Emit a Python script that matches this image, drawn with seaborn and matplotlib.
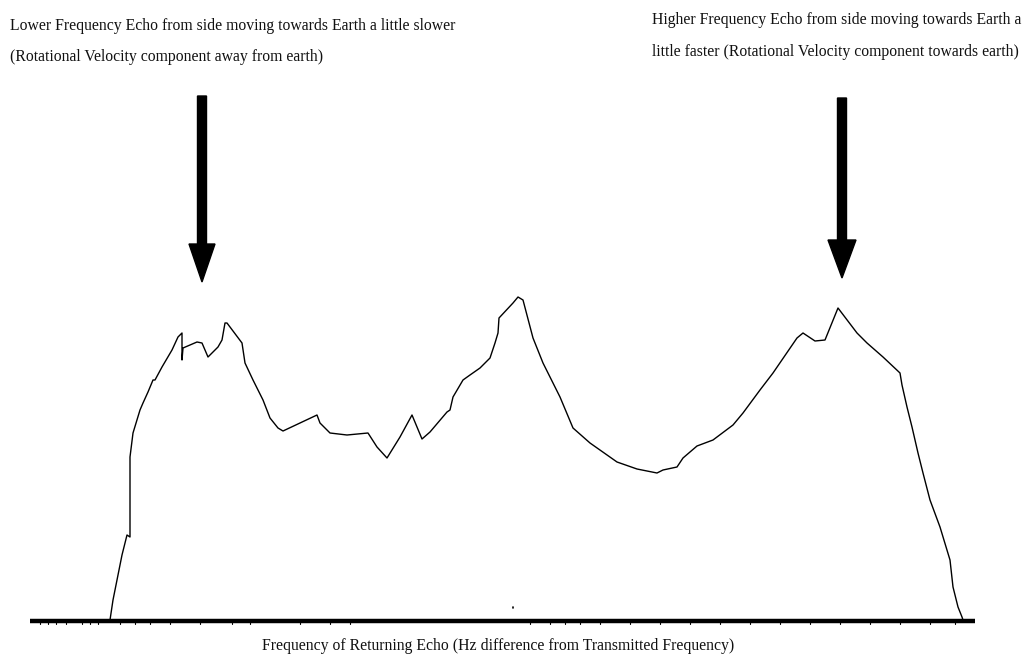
import matplotlib
matplotlib.use("Agg")
import matplotlib.pyplot as plt
import seaborn as sns
import pandas as pd
import numpy as np

# Echo spectrum (frequency units ~ horizontal position, power above baseline)
freq = [110, 113, 118, 122, 127, 130, 130, 133, 140, 143, 148, 153, 155, 162, 172, 178, 182,
        182, 183, 197, 202, 208, 218, 222, 225, 227, 242, 245, 253, 263, 270, 278, 283, 300,
        317, 320, 330, 347, 368, 377, 387, 400, 412, 422, 430, 447, 450, 453, 463, 470, 480,
        490, 495, 498, 499, 513, 518, 523, 533, 543, 560, 573, 590, 617, 637, 657, 663, 677,
        683, 697, 713, 733, 743, 760, 773, 797, 803, 815, 825, 838, 857, 867, 883, 900, 902,
        907, 912, 918, 923, 930, 940, 950, 953, 958, 962, 963]
power = [1, 21, 46, 66, 86, 84, 164, 188, 211, 218, 229, 241, 241, 254, 271, 284, 288,
         261, 273, 279, 278, 264, 274, 281, 298, 298, 278, 258, 241, 221, 203, 193, 190, 198,
         206, 198, 188, 186, 188, 174, 163, 184, 206, 182, 189, 209, 211, 224, 241, 246, 253,
         263, 278, 288, 303, 318, 324, 321, 283, 258, 224, 193, 178, 159, 152, 148, 151, 154,
         163, 175, 181, 196, 208, 231, 248, 283, 288, 280, 281, 313, 288, 278, 264, 248, 236,
         214, 194, 168, 148, 121, 94, 61, 34, 14, 4, 1]

left_note = ["Lower Frequency Echo from side moving towards Earth a little slower",
             "(Rotational Velocity component away from earth)"]
right_note = ["Higher Frequency Echo from side moving towards Earth a",
              "little faster (Rotational Velocity component towards earth)"]
xlabel = "Frequency of Returning Echo (Hz difference from Transmitted Frequency)"

sns.set_style("white")
plt.rcParams['font.family'] = ['Liberation Serif', 'DejaVu Serif']

fig = plt.figure(figsize=(10.26, 6.54), dpi=100)
ax = fig.add_axes([0, 0, 1, 1])
ax.set_xlim(0, 1026)
ax.set_ylim(-33, 621)
ax.axis("off")

df = pd.DataFrame({"freq": freq, "power": power})
sns.lineplot(data=df, x="freq", y="power", sort=False, estimator=None, color="black",
             lw=1.0, ax=ax)

# thick baseline axis
ax.plot([30, 975], [0, 0], color="black", lw=3.2, solid_capstyle="butt")
# small ticks under baseline
for tx in [40, 48, 56, 66, 82, 90, 98, 120, 135, 150, 170, 200, 232, 250, 300, 330, 350,
           530, 550, 565, 580, 600, 630, 660, 690, 720, 750, 780, 810, 840, 870, 900, 930, 955]:
    ax.plot([tx, tx], [0, -3], color="black", lw=0.8)
ax.plot([513, 513], [13, 14.5], color="black", lw=1.2)

# arrows
ax.arrow(202, 621 - 96, 0, -(282 - 96), width=9, head_width=26, head_length=38,
         length_includes_head=True, color="black")
ax.arrow(842, 621 - 98, 0, -(278 - 98), width=9, head_width=28, head_length=38,
         length_includes_head=True, color="black")

fs = 11.3
tc = "#111111"
ax.text(10, 621 - 26, left_note[0], fontsize=fs, va="center", ha="left", color=tc)
ax.text(10, 621 - 57, left_note[1], fontsize=fs, va="center", ha="left", color=tc)
ax.text(652, 621 - 20, right_note[0], fontsize=fs, va="center", ha="left", color=tc)
ax.text(652, 621 - 52, right_note[1], fontsize=fs, va="center", ha="left", color=tc)
ax.text(498, 621 - 646, xlabel, fontsize=fs, va="center", ha="center", color=tc)

fig.savefig("out.png", dpi=100, facecolor="white")
